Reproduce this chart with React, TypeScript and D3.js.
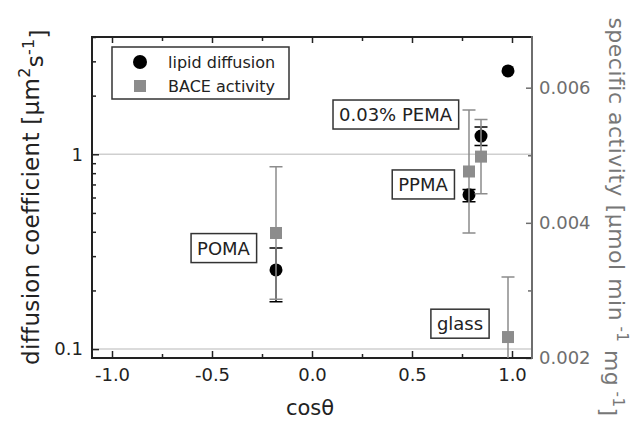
import React, { useEffect, useRef } from 'react';
import * as d3 from 'd3';

const samples = ['POMA', 'PPMA', '0.03% PEMA', 'glass'];
const cosTheta = [-0.18, 0.785, 0.845, 0.98];
const diffusion = [0.255, 0.62, 1.24, 2.68];
const diffusionLow = [0.175, 0.57, 1.11, null];
const diffusionHigh = [0.33, 0.66, 1.38, null];
const activity = [0.00385, 0.00476, 0.00498, 0.00231];
const activityErr = [0.00098, 0.00091, 0.00055, 0.00089];
// where the sample name boxes sit, in data units (cos theta, diffusion coefficient)
const labelX = [-0.4425, 0.555, 0.4175, 0.74];
const labelY = [0.33, 0.7, 1.6, 0.135];

const xTicks = [-1.0, -0.5, 0.0, 0.5, 1.0];
const xMinor = [-0.75, -0.25, 0.25, 0.75];
const yLeftTicks = [0.1, 1];
const yLeftMinor = [0.2, 0.3, 0.4, 0.5, 0.6, 0.7, 0.8, 0.9, 2, 3, 4];
const yRightTicks = [0.002, 0.004, 0.006];
const yRightMinor = [0.003, 0.005];

const FONT = '"DejaVu Sans", Verdana, sans-serif';
const GRAY = '#8c8c8c';
const DARK = '#222';

const App = () => {
  const ref = useRef<SVGSVGElement>(null);

  useEffect(() => {
    const svg = d3.select(ref.current);
    svg.selectAll('*').remove();

    const width = 636;
    const height = 425;
    const margin = { top: 37, right: 104, bottom: 67, left: 92 };
    const x0 = margin.left, x1 = width - margin.right;
    const y0 = height - margin.bottom, y1 = margin.top;

    const x = d3.scaleLinear().domain([-1.1, 1.1]).range([x0, x1]);
    const yL = d3.scaleLog().domain([0.09, 4]).range([y0, y1]);
    const yR = d3.scaleLinear().domain([0.002, 0.00675]).range([y0, y1]);

    const style = (g, color = DARK) => {
      g.attr('font-family', FONT).attr('font-size', 18);
      g.select('.domain').remove();
      g.selectAll('line').attr('stroke', color).attr('stroke-width', 1.5);
      g.selectAll('text').attr('fill', color);
    };

    // grid lines at the left axis decades
    svg.append('g').selectAll('line').data(yLeftTicks).join('line')
      .attr('x1', x0).attr('x2', x1)
      .attr('y1', d => yL(d)).attr('y2', d => yL(d))
      .attr('stroke', '#cfcfcf').attr('stroke-width', 1.5);

    // bottom
    svg.append('g').attr('transform', `translate(0,${y0})`)
      .call(d3.axisBottom(x).tickValues(xTicks).tickFormat(d => d.toFixed(1))
        .tickSizeInner(-7).tickSizeOuter(0).tickPadding(10))
      .call(style);
    svg.append('g').attr('transform', `translate(0,${y0})`)
      .call(d3.axisBottom(x).tickValues(xMinor).tickFormat(() => '').tickSizeInner(-4).tickSizeOuter(0))
      .call(style);
    // top (mirror, no labels)
    svg.append('g').attr('transform', `translate(0,${y1})`)
      .call(d3.axisTop(x).tickValues(xTicks).tickFormat(() => '').tickSizeInner(-6).tickSizeOuter(0))
      .call(style);
    svg.append('g').attr('transform', `translate(0,${y1})`)
      .call(d3.axisTop(x).tickValues(xMinor).tickFormat(() => '').tickSizeInner(-4).tickSizeOuter(0))
      .call(style);
    // left, log
    svg.append('g').attr('transform', `translate(${x0},0)`)
      .call(d3.axisLeft(yL).tickValues(yLeftTicks).tickFormat(d => String(d))
        .tickSizeInner(-7).tickSizeOuter(0).tickPadding(9))
      .call(style);
    svg.append('g').attr('transform', `translate(${x0},0)`)
      .call(d3.axisLeft(yL).tickValues(yLeftMinor).tickFormat(() => '').tickSizeInner(-4).tickSizeOuter(0))
      .call(style);
    // right, activity
    svg.append('g').attr('transform', `translate(${x1},0)`)
      .call(d3.axisRight(yR).tickValues(yRightTicks).tickFormat(d => d.toFixed(3))
        .tickSizeInner(-6).tickSizeOuter(0).tickPadding(7))
      .call(g => style(g, '#6e6e6e'));
    svg.append('g').attr('transform', `translate(${x1},0)`)
      .call(d3.axisRight(yR).tickValues(yRightMinor).tickFormat(() => '').tickSizeInner(-4).tickSizeOuter(0))
      .call(g => style(g, '#6e6e6e'));

    // frame
    svg.append('path')
      .attr('d', `M${x1},${y1}H${x0}V${y0}H${x1}`)
      .attr('fill', 'none').attr('stroke', DARK).attr('stroke-width', 2);
    svg.append('line')
      .attr('x1', x1).attr('x2', x1).attr('y1', y1 - 1).attr('y2', y0 + 1)
      .attr('stroke', '#6e6e6e').attr('stroke-width', 2);

    const plot = svg.append('g');
    const cap = 6.5;
    const idx = d3.range(samples.length);

    // diffusion error bars
    idx.filter(i => diffusionLow[i] != null).forEach(i => {
      const cx = x(cosTheta[i]);
      const lo = yL(diffusionLow[i]), hi = yL(diffusionHigh[i]);
      plot.append('path')
        .attr('d', `M${cx},${lo}V${hi}M${cx - cap},${lo}h${cap * 2}M${cx - cap},${hi}h${cap * 2}`)
        .attr('stroke', '#000').attr('stroke-width', 1.5).attr('fill', 'none');
    });
    plot.append('g').selectAll('circle').data(idx).join('circle')
      .attr('cx', i => x(cosTheta[i])).attr('cy', i => yL(diffusion[i]))
      .attr('r', 6.5).attr('fill', '#000');

    // activity error bars (clipped to the frame)
    idx.forEach(i => {
      const cx = x(cosTheta[i]);
      const lo = yR(activity[i] - activityErr[i]), hi = yR(activity[i] + activityErr[i]);
      const loC = Math.min(lo, y0);
      let d = `M${cx},${loC}V${hi}M${cx - cap},${hi}h${cap * 2}`;
      if (lo <= y0) d += `M${cx - cap},${lo}h${cap * 2}`;
      plot.append('path').attr('d', d)
        .attr('stroke', GRAY).attr('stroke-width', 1.5).attr('fill', 'none');
    });
    const sq = 12;
    plot.append('g').selectAll('rect').data(idx).join('rect')
      .attr('x', i => x(cosTheta[i]) - sq / 2).attr('y', i => yR(activity[i]) - sq / 2)
      .attr('width', sq).attr('height', sq).attr('fill', GRAY);

    // sample name boxes
    idx.forEach(i => {
      const g = svg.append('g');
      const t = g.append('text')
        .attr('x', x(labelX[i])).attr('y', yL(labelY[i])).attr('dy', '0.36em')
        .attr('text-anchor', 'middle').attr('font-family', FONT).attr('font-size', 18)
        .attr('fill', DARK).text(samples[i]);
      const b = (t.node() as SVGTextElement).getBBox();
      g.insert('rect', 'text')
        .attr('x', b.x - 6).attr('y', yL(labelY[i]) - 14.5)
        .attr('width', b.width + 12).attr('height', 29)
        .attr('fill', '#fff').attr('stroke', '#333').attr('stroke-width', 1.5);
    });

    // legend
    const lg = svg.append('g').attr('transform', 'translate(112,47)');
    lg.append('rect').attr('width', 177).attr('height', 52)
      .attr('fill', '#fff').attr('stroke', '#333').attr('stroke-width', 1.5);
    lg.append('circle').attr('cx', 28).attr('cy', 15).attr('r', 7).attr('fill', '#000');
    lg.append('rect').attr('x', 22).attr('y', 33).attr('width', sq).attr('height', sq).attr('fill', GRAY);
    [['lipid diffusion', 21], ['BACE activity', 45]].forEach(([s, yy]) => {
      lg.append('text').attr('x', 56).attr('y', yy as number)
        .attr('font-family', FONT).attr('font-size', 16).attr('fill', DARK).text(s as string);
    });

    // axis titles
    svg.append('text')
      .attr('x', (x0 + x1) / 2 - 2).attr('y', 415)
      .attr('text-anchor', 'middle').attr('font-family', FONT).attr('font-size', 21)
      .attr('fill', DARK).text('cosθ');

    const left = svg.append('text')
      .attr('transform', 'translate(39,197) rotate(-90)')
      .attr('text-anchor', 'middle').attr('font-family', FONT).attr('font-size', 23)
      .attr('letter-spacing', 0.3).attr('fill', DARK);
    left.append('tspan').text('diffusion coefficient [µm');
    left.append('tspan').attr('dy', '-0.55em').attr('font-size', 16).text('2');
    left.append('tspan').attr('dy', '0.55em').text('s');
    left.append('tspan').attr('dy', '-0.55em').attr('font-size', 16).text('-1');
    left.append('tspan').attr('dy', '0.55em').text(']');

    const right = svg.append('text')
      .attr('transform', 'translate(609,217) rotate(90)')
      .attr('text-anchor', 'middle').attr('font-family', FONT).attr('font-size', 22)
      .attr('letter-spacing', 0.5).attr('fill', '#777');
    right.append('tspan').text('specific activity [µmol min');
    right.append('tspan').attr('dy', '-0.55em').attr('font-size', 15).text(' -1');
    right.append('tspan').attr('dy', '0.55em').text(' mg');
    right.append('tspan').attr('dy', '-0.55em').attr('font-size', 15).text(' -1');
    right.append('tspan').attr('dy', '0.55em').text(']');
  }, []);

  return (
    <svg ref={ref} width={636} height={425}
      style={{ position: 'absolute', left: 0, top: 0, background: '#fff' }} />
  );
};

export default App;
